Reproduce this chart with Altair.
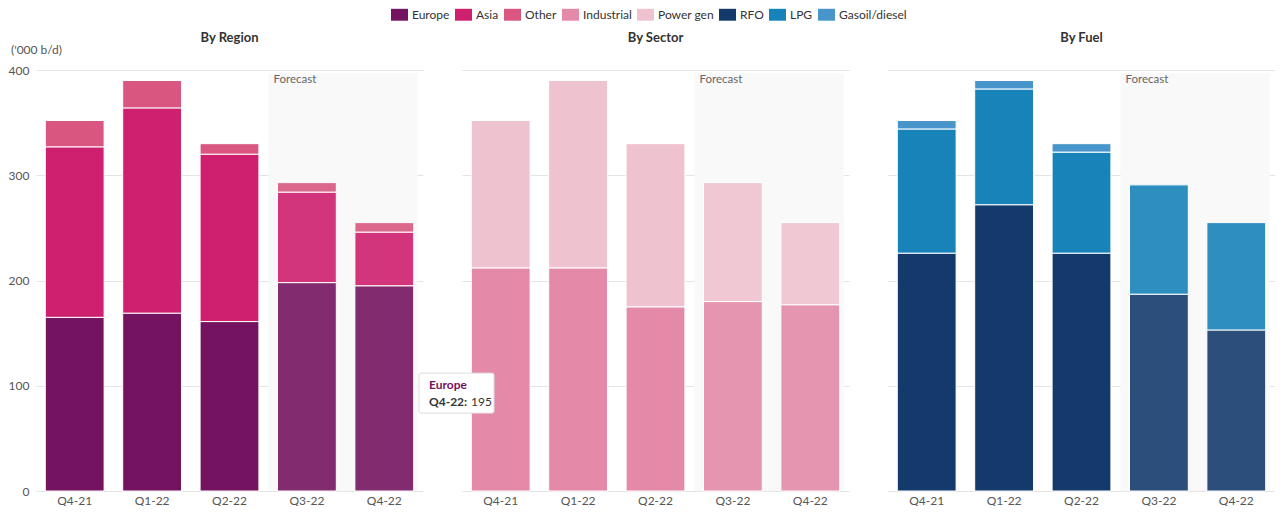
import altair as alt
import pandas as pd

quarters = ["Q4-21", "Q1-22", "Q2-22", "Q3-22", "Q4-22"]

# By Region ('000 b/d)
europe = [165, 169, 161, 198, 195]
asia = [162, 195, 159, 86, 51]
other = [25, 26, 10, 9, 9]

# By Sector
industrial = [212, 212, 175, 180, 177]
power_gen = [140, 178, 155, 113, 78]

# By Fuel
rfo = [226, 272, 226, 187, 153]
lpg = [118, 110, 96, 104, 102]
gasoil = [8, 8, 8, 1, 0]

categories = ["Europe", "Asia", "Other", "Industrial", "Power gen", "RFO", "LPG", "Gasoil/diesel"]
colors = ["#74135f", "#cf1f6f", "#d8567f", "#e48aa8", "#efc2d0", "#143a6c", "#1783b8", "#4795cb"]

FONT = "Lato"
W, H = 387, 421
GRID = "#e4e4e4"
LABEL = "#555555"


def frame(series):
    rows = []
    for order, (name, vals) in enumerate(series):
        for q, v in zip(quarters, vals):
            if v > 0:
                rows.append({"quarter": q, "category": name, "value": v, "order": order})
    return pd.DataFrame(rows)


color_scale = alt.Scale(domain=categories, range=colors)
x_scale = alt.Scale(domain=quarters, paddingInner=0.24, paddingOuter=0.12)
y_scale = alt.Scale(domain=[0, 400], nice=False)

forecast_df = pd.DataFrame({"start": ["Q3-22"], "end": ["Q4-22"], "label": ["Forecast"]})


def panel(title, series, first=False, extra=None):
    df = frame(series)
    if first:
        yaxis = alt.Axis(values=[0, 100, 200, 300, 400], grid=True, gridColor=GRID,
                         domain=False, ticks=False, labelPadding=7, labelColor=LABEL,
                         labelFontSize=12, labelFont=FONT, title=None)
    else:
        yaxis = alt.Axis(values=[0, 100, 200, 300, 400], grid=True, gridColor=GRID,
                         domain=False, ticks=False, labels=False, title=None)
    xaxis = alt.Axis(title=None, domain=False, ticks=False, labelAngle=0, labelPadding=4,
                     labelColor=LABEL, labelFontSize=12, labelFont=FONT)

    base_fc = alt.Chart(forecast_df)
    shade = base_fc.mark_rect(color="#f9f9f9", xOffset=-9, x2Offset=4).encode(
        x=alt.X("start:N", scale=x_scale, axis=xaxis, bandPosition=0),
        x2=alt.X2("end:N", bandPosition=1),
        y=alt.datum(397, scale=y_scale, axis=yaxis),
        y2=alt.datum(0),
    )
    bars = alt.Chart(df).mark_bar(stroke="white", strokeWidth=1).encode(
        x=alt.X("quarter:N", scale=x_scale, axis=xaxis, sort=quarters),
        y=alt.Y("sum(value):Q", scale=y_scale, axis=yaxis, stack="zero"),
        color=alt.Color("category:N", scale=color_scale,
                        legend=alt.Legend(title=None, orient="none", direction="horizontal",
                                          legendX=355, legendY=-64,
                                          symbolType="M-1,-0.7H1V0.7H-1Z", symbolSize=289,
                                          symbolStrokeWidth=0, labelFontSize=12, labelFont=FONT,
                                          labelColor="#333333", columnPadding=5, labelOffset=4)),
        order=alt.Order("order:Q", sort="ascending"),
    )
    overlay = base_fc.mark_rect(color="#ffffff", opacity=0.1, xOffset=-9, x2Offset=4).encode(
        x=alt.X("start:N", scale=x_scale, bandPosition=0),
        x2=alt.X2("end:N", bandPosition=1),
        y=alt.datum(397, scale=y_scale),
        y2=alt.datum(0),
    )
    label = base_fc.mark_text(align="left", baseline="top", dx=-4, dy=4, fontSize=11.5,
                              color="#666666", font=FONT).encode(
        x=alt.X("start:N", scale=x_scale, bandPosition=0),
        y=alt.datum(400, scale=y_scale),
        text="label:N",
    )
    head = alt.Chart(pd.DataFrame({"t": [title]})).mark_text(
        align="center", baseline="middle", fontSize=13, fontWeight="bold", color="#333333",
        font=FONT, dy=-32
    ).encode(x=alt.value(W / 2), y=alt.datum(400, scale=y_scale), text="t:N")
    layers = [shade, bars, overlay, label, head]
    if first:
        unit = alt.Chart(pd.DataFrame({"t": ["('000 b/d)"]})).mark_text(
            align="left", baseline="middle", fontSize=12, color=LABEL, font=FONT, dy=-20
        ).encode(x=alt.value(-25), y=alt.datum(400, scale=y_scale), text="t:N")
        layers.append(unit)
    if extra is not None:
        layers.extend(extra)
    return alt.layer(*layers).properties(width=W, height=H)


# hover tooltip shown in the reference (Europe, last quarter)
tip_df = pd.DataFrame({"name": ["Europe"], "q": [quarters[-1] + ":"], "v": [str(europe[-1])]})
tip_base = alt.Chart(tip_df)
tip_box = tip_base.mark_rect(fill="white", stroke="#dddddd", strokeWidth=1, cornerRadius=2).encode(
    x=alt.value(-43), x2=alt.value(32), y=alt.datum(112, scale=y_scale), y2=alt.datum(74)
)
tip_name = tip_base.mark_text(align="left", baseline="middle", fontSize=12, fontWeight="bold",
                              color="#74135f", font=FONT).encode(
    x=alt.value(-33), y=alt.datum(101, scale=y_scale), text="name:N")
tip_q = tip_base.mark_text(align="left", baseline="middle", fontSize=12, fontWeight="bold",
                           color="#333333", font=FONT).encode(
    x=alt.value(-33), y=alt.datum(85, scale=y_scale), text="q:N")
tip_v = tip_base.mark_text(align="left", baseline="middle", fontSize=12,
                           color="#333333", font=FONT).encode(
    x=alt.value(9), y=alt.datum(85, scale=y_scale), text="v:N")

p1 = panel("By Region", [("Europe", europe), ("Asia", asia), ("Other", other)], first=True)
p2 = panel("By Sector", [("Industrial", industrial), ("Power gen", power_gen)],
           extra=[tip_box, tip_name, tip_q, tip_v])
p3 = panel("By Fuel", [("RFO", rfo), ("LPG", lpg), ("Gasoil/diesel", gasoil)])

chart = alt.hconcat(p1, p2, p3, spacing=39, bounds="flush").resolve_scale(
    color="shared"
).properties(
    padding={"left": 0, "top": -2, "right": 0, "bottom": 0}
).configure(
    font=FONT, background="white"
).configure_view(
    strokeWidth=0, stroke="transparent"
)

chart.save("out.html", embed_options={"renderer": "svg", "actions": False})
